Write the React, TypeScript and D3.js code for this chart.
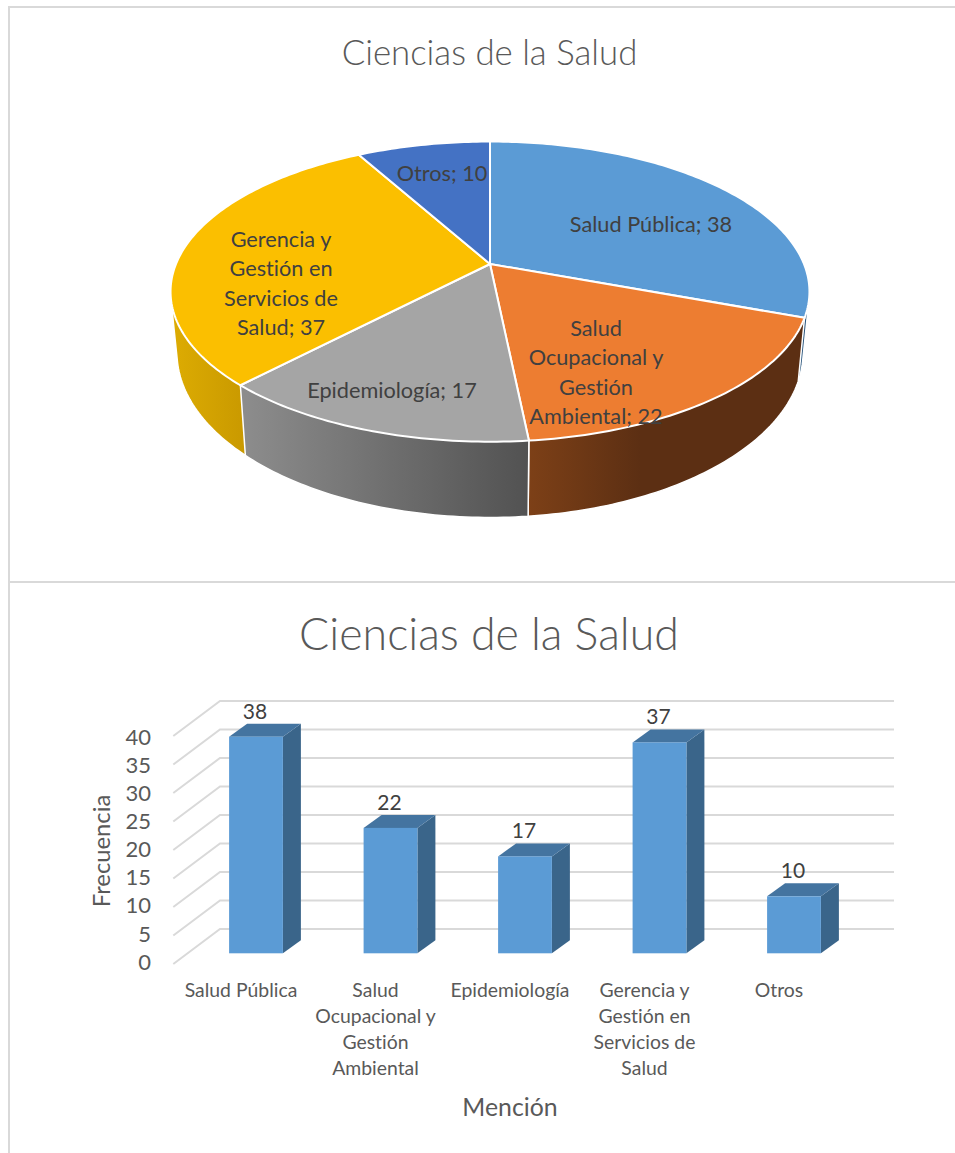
import React from "react";
import * as d3 from "d3";

const categories = ["Salud Pública", "Salud Ocupacional y Gestión Ambiental", "Epidemiología", "Gerencia y Gestión en Servicios de Salud", "Otros"];
const values = [38, 22, 17, 37, 10];
const pieLabelLines = [
  ["Salud Pública; 38"],
  ["Salud", "Ocupacional y", "Gestión", "Ambiental; 22"],
  ["Epidemiología; 17"],
  ["Gerencia y", "Gestión en", "Servicios de", "Salud; 37"],
  ["Otros; 10"],
];
const barLabelLines = [
  ["Salud Pública"],
  ["Salud", "Ocupacional y", "Gestión", "Ambiental"],
  ["Epidemiología"],
  ["Gerencia y", "Gestión en", "Servicios de", "Salud"],
  ["Otros"],
];
const title = "Ciencias de la Salud";
const yTicks = [0, 5, 10, 15, 20, 25, 30, 35, 40];

// Layout only
const pieColors = ["#5b9bd5", "#ed7d31", "#a5a5a5", "#fbbf00", "#4472c4"];
const sideStops = [
  ["#2f5d88", "#2a557c"],
  ["#7d4017", "#5c2f13"],
  ["#8c8c8c", "#525252"],
  ["#dcab02", "#c99900"],
  ["#2f5597", "#2f5597"],
];
const sideGradX = [[600, 810], [528, 640], [246, 528], [175, 246], [360, 490]];
const pieLabelAnchor = [[651, 224.5], [596, 328.5], [392, 390.5], [281, 239.5], [442, 173.5]];
const font = "Lato, Carlito, sans-serif";

const cx = 490, cy = 264, sx = 314, sy = 145, persp = 0.184;
const bottomScaleX = 0.98, bottomScaleY = 1.1, bottomY = 322;

const project = (a: number, r = 1): [number, number] => {
  const x = Math.sin(a) * r, y = -Math.cos(a) * r;
  const w = 1 - persp * y;
  return [cx + (sx * x) / w, cy + (sy * y) / w];
};
const projectBottom = (a: number): [number, number] => {
  const [x, y] = project(a);
  return [cx + bottomScaleX * (x - cx), bottomY + bottomScaleY * (y - cy)];
};
const arcAngles = (a0: number, a1: number) => {
  const n = Math.max(2, Math.ceil((a1 - a0) * 60));
  return d3.range(n + 1).map((i) => a0 + ((a1 - a0) * i) / n);
};

const pieLayout = d3.pie<number>().sort(null)(values);
const line = d3.line<[number, number]>();

// Bars
const xBand = d3.scaleBand<number>().domain(values.map((_, i) => i)).range([188.75, 861.25]).paddingInner(0.6).paddingOuter(0.3);
const yFront = d3.scaleLinear().domain([0, 40]).range([953.3, 725.3]);
const yWall = d3.scaleLinear().domain([0, 40]).range([964, 736]);
const yBack = d3.scaleLinear().domain([0, 40]).range([929, 701]);
const yTickLabel = d3.scaleLinear().domain([0, 40]).range([962, 737]);
const wallFrontX = 173.3, wallBackX = 220, gridRight = 894;
const depthX = 18, depthY = -13;

export default function App() {
  const bw = xBand.bandwidth();
  return (
    <svg width={955} height={1153} style={{ position: "absolute", left: 0, top: 0, background: "#fff", fontVariantLigatures: "none" }} fontFamily={font}>
      <defs>
        {sideStops.map((s, i) => (
          <linearGradient key={i} id={`side${i}`} gradientUnits="userSpaceOnUse" x1={sideGradX[i][0]} x2={sideGradX[i][1]} y1={0} y2={0}>
            <stop offset="0" stopColor={s[0]} />
            <stop offset="1" stopColor={s[1]} />
          </linearGradient>
        ))}
      </defs>

      {/* frame */}
      <g stroke="#d9d9d9" fill="none">
        <line x1={8} x2={955} y1={7} y2={7} strokeWidth={2} />
        <line x1={9} x2={9} y1={6} y2={1153} strokeWidth={2} />
        <line x1={9} x2={955} y1={582} y2={582} strokeWidth={2} />
      </g>

      <text x={489.5} y={65} textAnchor="middle" fontSize={34.8} fontWeight={300} fill="#595959">{title}</text>

      {/* pie sides: hull of each slice's upper and lower rim gives the straight silhouette */}
      {[0, 4, 3, 1, 2].map((i) => {
        const s = pieLayout[i];
        const as = arcAngles(s.startAngle, s.endAngle);
        const hull = d3.polygonHull([...as.map((a) => project(a)), ...as.map((a) => projectBottom(a))])!;
        return <path key={i} d={line(hull) + "Z"} fill={`url(#side${i})`} stroke="#fff" strokeWidth={1.5} strokeLinejoin="round" />;
      })}
      {/* pie tops */}
      {pieLayout.map((s, i) => {
        const pts: [number, number][] = [[cx, cy], ...arcAngles(s.startAngle, s.endAngle).map((a) => project(a))];
        return <path key={i} d={line(pts) + "Z"} fill={pieColors[i]} stroke="#fff" strokeWidth={2} strokeLinejoin="round" />;
      })}
      {pieLabelLines.map((ls, i) => (
        <text key={i} textAnchor="middle" fontSize={21.7} fill="#404040">
          {ls.map((l, j) => (
            <tspan key={j} x={pieLabelAnchor[i][0]} y={pieLabelAnchor[i][1] + j * 29.3} dy="0.35em">{l}</tspan>
          ))}
        </text>
      ))}

      <text x={489} y={650} textAnchor="middle" fontSize={44.7} fontWeight={300} fill="#595959">{title}</text>

      {/* walls & grid */}
      <g stroke="#d9d9d9" strokeWidth={2} fill="none">
        {yTicks.map((t) => (
          <path key={t} d={line([[wallFrontX, yWall(t)], [wallBackX, yBack(t)], [gridRight, yBack(t)]])!} />
        ))}
      </g>
      <g fontSize={22} fill="#595959" textAnchor="end">
        {yTicks.map((t) => (
          <text key={t} x={151} y={yTickLabel(t)} dy="0.35em">{t}</text>
        ))}
      </g>

      {/* bars */}
      {values.map((v, i) => {
        const x0 = xBand(i)!, x1 = x0 + bw, y0 = yFront(0), y1 = yFront(v);
        return (
          <g key={i}>
            <path d={line([[x1, y1], [x1 + depthX, y1 + depthY], [x1 + depthX, y0 + depthY], [x1, y0]]) + "Z"} fill="#3a658a" />
            <path d={line([[x0, y1], [x0 + depthX, y1 + depthY], [x1 + depthX, y1 + depthY], [x1, y1]]) + "Z"} fill="#4474a0" />
            <rect x={x0} y={y1} width={bw} height={y0 - y1} fill="#5b9bd5" />
            <text x={x0 + bw / 2 - 1} y={y1 - 18} textAnchor="middle" fontSize={21} fill="#404040">{v}</text>
            <text textAnchor="middle" fontSize={19.4} fill="#595959">
              {barLabelLines[i].map((l, j) => (
                <tspan key={j} x={x0 + bw / 2 - 15} y={990.5 + j * 26} dy="0.35em">{l}</tspan>
              ))}
            </text>
          </g>
        );
      })}

      <text transform="translate(102,851) rotate(-90)" textAnchor="middle" dy="0.35em" fontSize={23.8} fill="#595959">Frecuencia</text>
      <text x={510} y={1107} textAnchor="middle" dy="0.35em" fontSize={24.8} fill="#595959">Mención</text>
    </svg>
  );
}
